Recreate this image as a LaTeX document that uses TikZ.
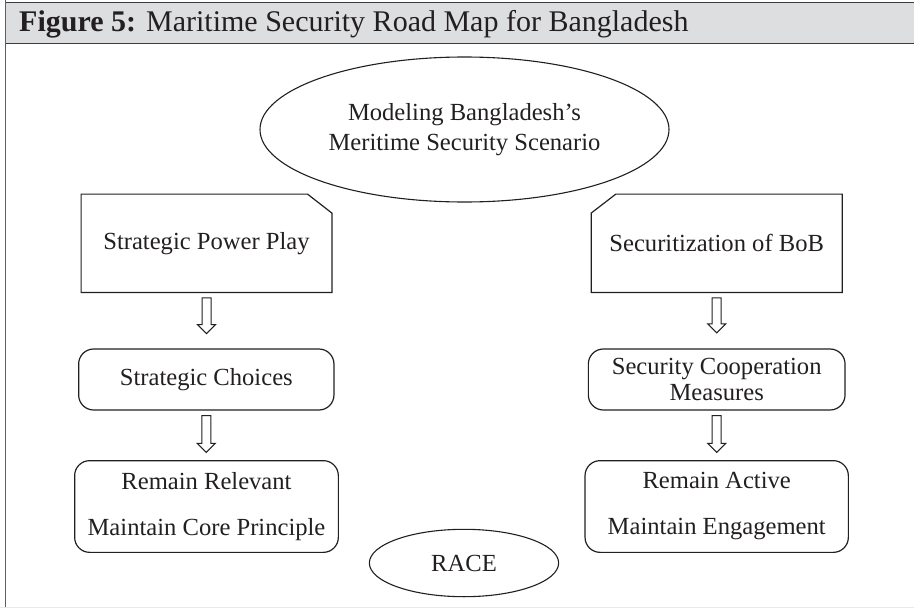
\documentclass[tikz,border=0pt]{standalone}
\usepackage{fontspec}
\setmainfont{Liberation Serif}
\usetikzlibrary{shapes.geometric,calc}
\definecolor{ink}{RGB}{35,31,32}
\definecolor{hdrfill}{RGB}{221,222,224}
\definecolor{hdrline}{RGB}{60,60,60}
\definecolor{framegray}{RGB}{95,95,95}
\definecolor{faint}{RGB}{232,232,232}
% hollow block arrow from a start point straight down to a tip point
\newcommand\hollowarrow[2]{%
  \draw[blockarrow] let \p1=(#1), \p2=(#2) in
    (\x1-4.5pt,\y1) -- (\x1-4.5pt,\y2+9pt) -- (\x1-9pt,\y2+9pt) -- (\x1,\y2)
    -- (\x1+9pt,\y2+9pt) -- (\x1+4.5pt,\y2+9pt) -- (\x1+4.5pt,\y1) -- cycle;}
\begin{document}
\begin{tikzpicture}[x=1pt,y=-1pt,
  every node/.style={text=ink, font=\fontsize{24.6}{27}\selectfont, inner sep=0pt},
  oval/.style={ellipse, draw=ink, line width=1.1pt, align=center},
  cutbox/.style={rectangle, minimum height=98pt},
  cutline/.style={draw=ink, line width=1.2pt, line join=miter},
  roundbox/.style={rectangle, draw=ink, line width=1.2pt, rounded corners=15pt, align=center},
  blockarrow/.style={draw=ink, line width=1pt, fill=white, line join=miter}
]
\useasboundingbox (0,0) rectangle (914,608);

% caption bar and frame
\fill[hdrfill] (5.7,2.7) rectangle (914,43.5);
\draw[hdrline, line width=1.4pt] (5.7,2.7) -- (914,2.7);
\draw[hdrline, line width=1.4pt] (5.7,43.5) -- (914,43.5);
\draw[framegray, line width=1.1pt] (5.7,0) -- (5.7,608);
\draw[faint, line width=1pt] (0,607.3) -- (914,607.3);
\node[anchor=base west, font=\fontsize{30}{32}\selectfont] (title) at (19,31.7)
  {\textbf{Figure 5:} Maritime Security Road Map for Bangladesh};

% top scenario
\node[oval, minimum width=409pt, minimum height=145pt] (model) at (464.5,129.5)
  {Modeling Bangladesh's\\[3pt]Meritime Security Scenario};

% two branch headings with a cut corner
\node[cutbox, minimum width=250.4pt] (spp) at (206.5,243.3) {Strategic Power Play};
\draw[cutline] (spp.south west) -- (spp.north west) -- ([xshift=-24.4pt]spp.north east)
  -- ([yshift=-19pt]spp.north east) -- (spp.south east) -- cycle;
\node[cutbox, minimum width=250.7pt] (sob) at (716.7,243.3) {Securitization of BoB};
\draw[cutline] (sob.south west) -- ([yshift=-19pt]sob.north west)
  -- ([xshift=24.7pt]sob.north west) -- (sob.north east) -- (sob.south east) -- cycle;

% middle row
\node[roundbox, minimum width=255.3pt, minimum height=61pt] (sc) at (206.3,379.5)
  {Strategic Choices};
\node[roundbox, minimum width=256.7pt, minimum height=61pt,
      font=\fontsize{24.6}{26.7}\selectfont] (scm) at (716.7,379.5)
  {Security Cooperation\\Measures};

% bottom row
\node[roundbox, minimum width=263.7pt, minimum height=91.7pt] (rr) at (206.5,506.5)
  {Remain Relevant\\[19pt]Maintain Core Principle};
\node[roundbox, minimum width=263.3pt, minimum height=91.7pt] (ra) at (716.7,506.5)
  {Remain Active\\[19pt]Maintain Engagement};

\node[oval, minimum width=189.3pt, minimum height=67.4pt] (race) at (464,563) {RACE};

% arrow end points
\coordinate (a1s) at ([yshift=-5.4pt]spp.south);
\coordinate (a1t) at ([yshift=14.7pt]sc.north);
\coordinate (a2s) at ([yshift=-5pt]sc.south);
\coordinate (a2t) at ([yshift=7.7pt]rr.north);
\coordinate (b1s) at ([yshift=-5.4pt]sob.south);
\coordinate (b1t) at ([yshift=15.5pt]scm.north);
\coordinate (b2s) at ([yshift=-5pt]scm.south);
\coordinate (b2t) at ([yshift=7.7pt]ra.north);

\hollowarrow{a1s}{a1t}
\hollowarrow{a2s}{a2t}
\hollowarrow{b1s}{b1t}
\hollowarrow{b2s}{b2t}
\end{tikzpicture}
\end{document}
